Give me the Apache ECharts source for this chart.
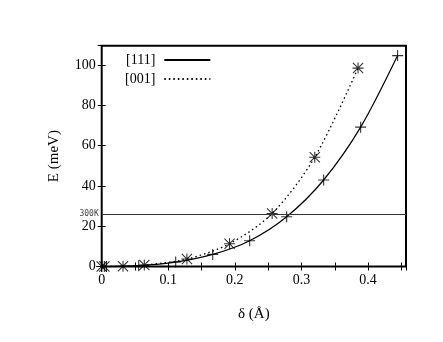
<!DOCTYPE html>
<html>
<head>
<meta charset="utf-8">
<script src="https://cdn.jsdelivr.net/npm/echarts@6/dist/echarts.min.js"></script>
<style>
  html, body { margin: 0; padding: 0; background: #fff; }
  #main { width: 443px; height: 342px; }
</style>
</head>
<body>
<div id="main"></div>
<script>
// [111] direction, plus markers + solid line
const delta111 = [0, 0.007, 0.0556, 0.1111, 0.1667, 0.2222, 0.2778, 0.3333, 0.3889, 0.4444];
const energy111 = [0, 0, 0.4, 2.2, 6, 12.8, 24.7, 42.9, 69.1, 104.6];
// [001] direction, asterisk markers + dotted line
const delta001 = [0, 0.004, 0.032, 0.064, 0.128, 0.192, 0.256, 0.32, 0.385];
const energy001 = [0, 0, 0.1, 0.7, 3.7, 11.3, 26.3, 54.2, 98.4];
// thermal energy at 300 K (meV)
const kT300 = 25.85;
const xTickLabels = ['0', '0.1', '0.2', '0.3', '0.4'];

const pairs = (xs, ys) => xs.map((x, i) => [x, ys[i]]);

const FONT = 'Liberation Serif';
const PLUS = 'path://M4.5,0H5.5V4.5H10V5.5H5.5V10H4.5V5.5H0V4.5H4.5Z';
const STAR = 'path://M4.5,0H5.5V4.5H10V5.5H5.5V10H4.5V5.5H0V4.5H4.5Z' +
  'M0.7,0L5,4.3L9.3,0L10,0.7L5.7,5L10,9.3L9.3,10L5,5.7L0.7,10L0,9.3L4.3,5L0,0.7Z';

const chart = echarts.init(document.getElementById('main'));

const xBase = {
  type: 'value', min: 0, max: 0.457, interval: 0.05,
  splitLine: { show: false }, axisLine: { show: false },
  axisTick: { inside: true, length: 4, lineStyle: { color: '#000', width: 1 } }
};
const yBase = {
  type: 'value', min: 0, max: 109.5, interval: 20,
  splitLine: { show: false }, axisLine: { show: false },
  axisTick: { inside: true, length: 4, lineStyle: { color: '#000', width: 1 } }
};

chart.setOption({
  animation: false,
  grid: {
    left: 101.7, top: 45.7, right: 37, bottom: 75.5,
    show: true, borderColor: '#000', borderWidth: 2
  },
  legend: {
    orient: 'vertical', left: 120, top: 48, align: 'right',
    itemWidth: 46, itemHeight: 10, itemGap: 5,
    data: ['[111]', '[001]'],
    itemStyle: { color: 'transparent', borderWidth: 0 },
    textStyle: { fontFamily: FONT, fontSize: 14, color: '#000', padding: [0, 4, 0, 0] }
  },
  xAxis: [
    Object.assign({}, xBase, {
      position: 'bottom',
      name: 'δ (Å)', nameLocation: 'middle', nameGap: 40,
      nameTextStyle: { fontFamily: FONT, fontSize: 15, color: '#000' },
      axisLabel: {
        showMaxLabel: false, margin: 7, color: '#000', fontFamily: FONT, fontSize: 14,
        formatter: v => {
          const k = Math.round(v * 100);
          return k % 10 === 0 ? xTickLabels[k / 10] : '';
        }
      }
    }),
    Object.assign({}, xBase, { position: 'top', axisLabel: { show: false } })
  ],
  yAxis: [
    Object.assign({}, yBase, {
      position: 'left',
      name: 'E (meV)', nameLocation: 'middle', nameGap: 40,
      nameTextStyle: { fontFamily: FONT, fontSize: 15, color: '#000' },
      axisLabel: { showMaxLabel: false, margin: 6, color: '#000', fontFamily: FONT, fontSize: 14 }
    }),
    Object.assign({}, yBase, { position: 'right', axisLabel: { show: false } })
  ],
  series: [
    {
      name: '[111]', type: 'line', data: pairs(delta111, energy111),
      smooth: 0.3, symbol: 'none',
      lineStyle: { color: '#000', width: 1.2 }, itemStyle: { color: '#000' },
      markLine: {
        silent: true, symbol: 'none',
        data: [{ yAxis: kT300 }],
        lineStyle: { color: '#333', type: 'solid', width: 1 },
        label: {
          position: 'start', formatter: '300K', distance: 3,
          fontFamily: 'DejaVu Sans Mono', fontSize: 8, color: '#444'
        }
      }
    },
    {
      name: '[001]', type: 'line', data: pairs(delta001, energy001),
      smooth: 0.3, symbol: 'none',
      lineStyle: { color: '#000', width: 1.3, type: [1.5, 3] }, itemStyle: { color: '#000' }
    },
    {
      name: 'pts111', type: 'scatter', data: pairs(delta111, energy111),
      symbol: PLUS, symbolSize: 11, itemStyle: { color: '#000' }
    },
    {
      name: 'pts001', type: 'scatter', data: pairs(delta001, energy001),
      symbol: STAR, symbolSize: 11, itemStyle: { color: '#000' }
    }
  ]
});
</script>
</body>
</html>
